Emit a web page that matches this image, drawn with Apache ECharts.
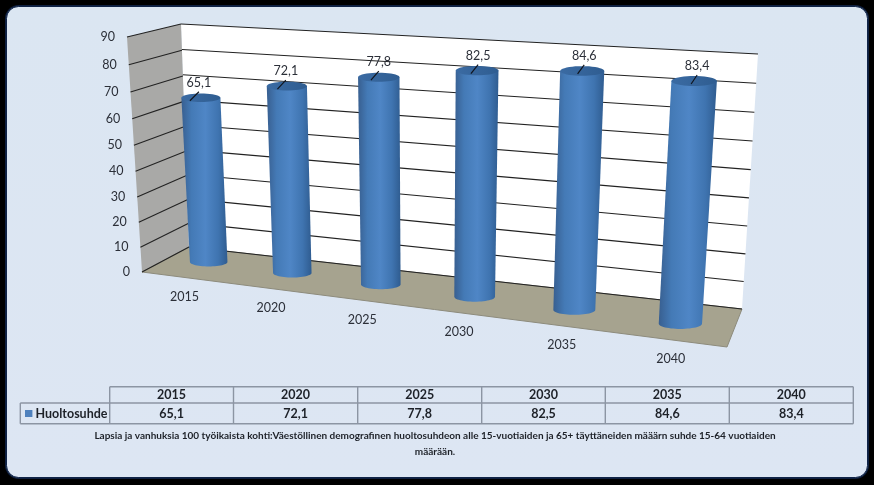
<!DOCTYPE html>
<html><head><meta charset="utf-8">
<style>html,body{margin:0;padding:0;background:#000}#c{width:874px;height:485px}</style>
<script src="https://cdn.jsdelivr.net/npm/echarts@6/dist/echarts.min.js"></script>
</head><body><div id="c"></div>
<script>
const categories = ['2015','2020','2025','2030','2035','2040'];
const values = [65.1,72.1,77.8,82.5,84.6,83.4];
const valueLabels = ['65,1','72,1','77,8','82,5','84,6','83,4'];
const yTicks = [0,10,20,30,40,50,60,70,80,90];
const seriesName = 'Huoltosuhde';
const captionLines = [
 'Lapsia ja vanhuksia 100 työikaista kohti:Väestöllinen demografinen huoltosuhdeon alle 15-vuotiaiden ja 65+ täyttäneiden määärn suhde 15-64 vuotiaiden',
 'määrään.'
];

const FONT = 'Lato, "Open Sans", sans-serif';
const INK = '#2b2f38';

// unit square -> picture quad (perspective); k blends height toward a straight scale
function quad(p0,p1,p2,p3,k){
  const dx1=p1[0]-p2[0],dx2=p3[0]-p2[0],sx=p0[0]-p1[0]+p2[0]-p3[0];
  const dy1=p1[1]-p2[1],dy2=p3[1]-p2[1],sy=p0[1]-p1[1]+p2[1]-p3[1];
  const den=dx1*dy2-dx2*dy1;
  const g=(sx*dy2-dx2*sy)/den,h=(dx1*sy-sx*dy1)/den;
  const a=p1[0]-p0[0]+g*p1[0],b=p3[0]-p0[0]+h*p3[0],c=p0[0];
  const d=p1[1]-p0[1]+g*p1[1],e=p3[1]-p0[1]+h*p3[1],f=p0[1];
  const H=(u,v)=>{const w=g*u+h*v+1;return [(a*u+b*v+c)/w,(d*u+e*v+f)/w];};
  return (u,v)=>{
    const q=H(u,v),b0=H(u,0),b1=H(u,1);
    return [q[0]+(b0[0]+(b1[0]-b0[0])*v-q[0])*k, q[1]+(b0[1]+(b1[1]-b0[1])*v-q[1])*k];
  };
}
const backWall = quad([189,247],[742,309],[758,54],[181,24],0.2);
const midPlane = quad([168.6,256.7],[736,331],[754.4,65],[156,32.7],1);
const frontPlane = quad([142,272],[727,347],[748,69],[127,37],0);
const leftWall = quad([142,272],[189,247],[181,24],[127,37],0.5); // u = depth

function norm(params,api,x,y){
  const p=api.coord([x,y]),c=params.coordSys;
  return [(p[0]-c.x)/c.width,(c.y+c.height-p[1])/c.height];
}
function line(a,b,stroke,w){
  return {type:'line',shape:{x1:a[0],y1:a[1],x2:b[0],y2:b[1]},style:{stroke:stroke,lineWidth:w}};
}
function label(text,x,y,align){
  return {type:'text',x:x,y:y,style:{text:text,fill:INK,font:'12.5px '+FONT,textAlign:align||'center',textVerticalAlign:'middle'}};
}
function renderScene(){
  return {type:'group',children:[
    {type:'polygon',shape:{points:[[181,24],[758,54],[742,309],[189,247]]},style:{fill:'#ffffff'}},
    {type:'polygon',shape:{points:[[127,37],[181,24],[189,247],[142,272]]},style:{fill:'#a9a9a7'}},
    {type:'polygon',shape:{points:[[189,247],[742,309],[727,347],[142,272]]},style:{fill:'#a6a38f',stroke:'#8d8b7c',lineWidth:1}}
  ]};
}
function renderTick(params,api){
  const t=norm(params,api,0,api.value(0))[1];
  const f=leftWall(0,t),m=leftWall(1,t),r=backWall(1,t);
  return {type:'group',children:[
    line(f,m,'#222',1.1),
    line(backWall(0,t),r,'#222',1.1),
    label(yTicks[params.dataIndex],f[0]-12,f[1],'right')
  ]};
}
function ell(cx,cy,rx,ry,a0,a1,n){
  const out=[];
  for(let k=0;k<=n;k++){const a=a0+(a1-a0)*k/n;out.push([cx+rx*Math.cos(a),cy+ry*Math.sin(a)]);}
  return out;
}
function renderCyl(params,api){
  const i=params.dataIndex,val=api.value(1);
  const n=norm(params,api,i,val),u=n[0],v=n[1];
  const top=midPlane(u,v),bot=midPlane(u,0),full=midPlane(u,1);
  const H=Math.hypot(full[0]-bot[0],full[1]-bot[1]);
  const rT=H*(0.0825+0.0045*v),rB=H*0.0825;
  const ryT=rT*0.22,ryB=rB*0.24;
  const body=[[top[0]-rT,top[1]],[top[0]+rT,top[1]]].concat(ell(bot[0],bot[1],rB,ryB,0,Math.PI,28));
  const grad={type:'linear',x:0,y:0,x2:1,y2:0,colorStops:[
    {offset:0,color:'#385f90'},{offset:0.22,color:'#447ab6'},{offset:0.52,color:'#4f86c6'},
    {offset:0.8,color:'#3f74b0'},{offset:1,color:'#2f5c90'}]};
  const capGrad={type:'linear',x:0,y:0,x2:1,y2:0,colorStops:[
    {offset:0,color:'#3b6ba3'},{offset:1,color:'#2f5d91'}]};
  const ds=-11+1.6*i, de=-2+i;
  return {type:'group',children:[
    {type:'polygon',shape:{points:body},style:{fill:grad}},
    {type:'polygon',shape:{points:ell(top[0],top[1],rT,ryT,0,Math.PI*2,40)},style:{fill:capGrad}},
    line([top[0]+ds,top[1]+3],[top[0]+de,top[1]-6],'#10141c',1.2),
    label(valueLabels[i],top[0]+de,top[1]-15)
  ]};
}
function renderCat(params,api){
  const i=params.dataIndex,u=norm(params,api,i,0)[0];
  const p=frontPlane(u,0);
  return label(categories[i],p[0]+1,p[1]+19.5);
}

// data table and frame
const colX=[109.7,233.5,357.7,481.7,605.3,729.3,853.3];
const rowY=[386.7,403,423.7];
const TL='#8c95a3';
const tableEls=[];
function gl(x1,y1,x2,y2){tableEls.push({type:'line',z:5,shape:{x1,y1,x2,y2},style:{stroke:TL,lineWidth:1.4}});}
function gt(t,x,y,size,align){tableEls.push({type:'text',z:6,x,y,style:{text:t,fill:'#1d2128',font:'bold '+size+'px '+FONT,textAlign:align||'center',textVerticalAlign:'middle'}});}
rowY.forEach((y,k)=>gl(k==0?colX[0]:(20.3),y,colX[6],y));
colX.forEach(x=>gl(x,rowY[0],x,rowY[2]));
gl(20.3,rowY[1],20.3,rowY[2]);
categories.forEach((c,k)=>{
  const x=(colX[k]+colX[k+1])/2;
  gt(c,x,395,12.5);
  gt(valueLabels[k],x,413.5,12.5);
});
tableEls.push({type:'rect',z:6,shape:{x:25,y:410,width:7.4,height:7},style:{fill:'#4f81bd'}});
gt(seriesName,35.5,413.5,12.5,'left');
gt(captionLines[0],435,436,10);
gt(captionLines[1],435,452,10);

const chart=echarts.init(document.getElementById('c'),null,{renderer:'canvas'});
chart.setOption({
  animation:false,
  backgroundColor:'#000',
  grid:{left:0,right:0,top:0,bottom:0},
  xAxis:{type:'category',data:categories,show:false},
  yAxis:{type:'value',min:0,max:90,interval:10,show:false},
  graphic:{elements:[
    {type:'rect',z:0,shape:{x:5,y:5,width:864,height:474,r:14},style:{fill:'#0f2040'}},
    {type:'rect',z:0,shape:{x:6.5,y:6.5,width:861,height:471,r:12},style:{
      fill:{type:'linear',x:0,y:0,x2:0,y2:1,colorStops:[{offset:0,color:'#dbe6f2'},{offset:1,color:'#dde6f3'}]},
      stroke:'#102448',lineWidth:1}}
  ].concat(tableEls)},
  series:[
    {type:'custom',z:2,silent:true,data:[[0,0]],renderItem:renderScene},
    {type:'custom',z:3,silent:true,data:yTicks.map(t=>[t]),encode:{y:0},renderItem:renderTick},
    {type:'custom',z:4,silent:true,name:seriesName,data:values.map((v,i)=>[i,v]),renderItem:renderCyl},
    {type:'custom',z:4,silent:true,data:categories.map((c,i)=>[i,0]),renderItem:renderCat}
  ]
});
</script></body></html>
